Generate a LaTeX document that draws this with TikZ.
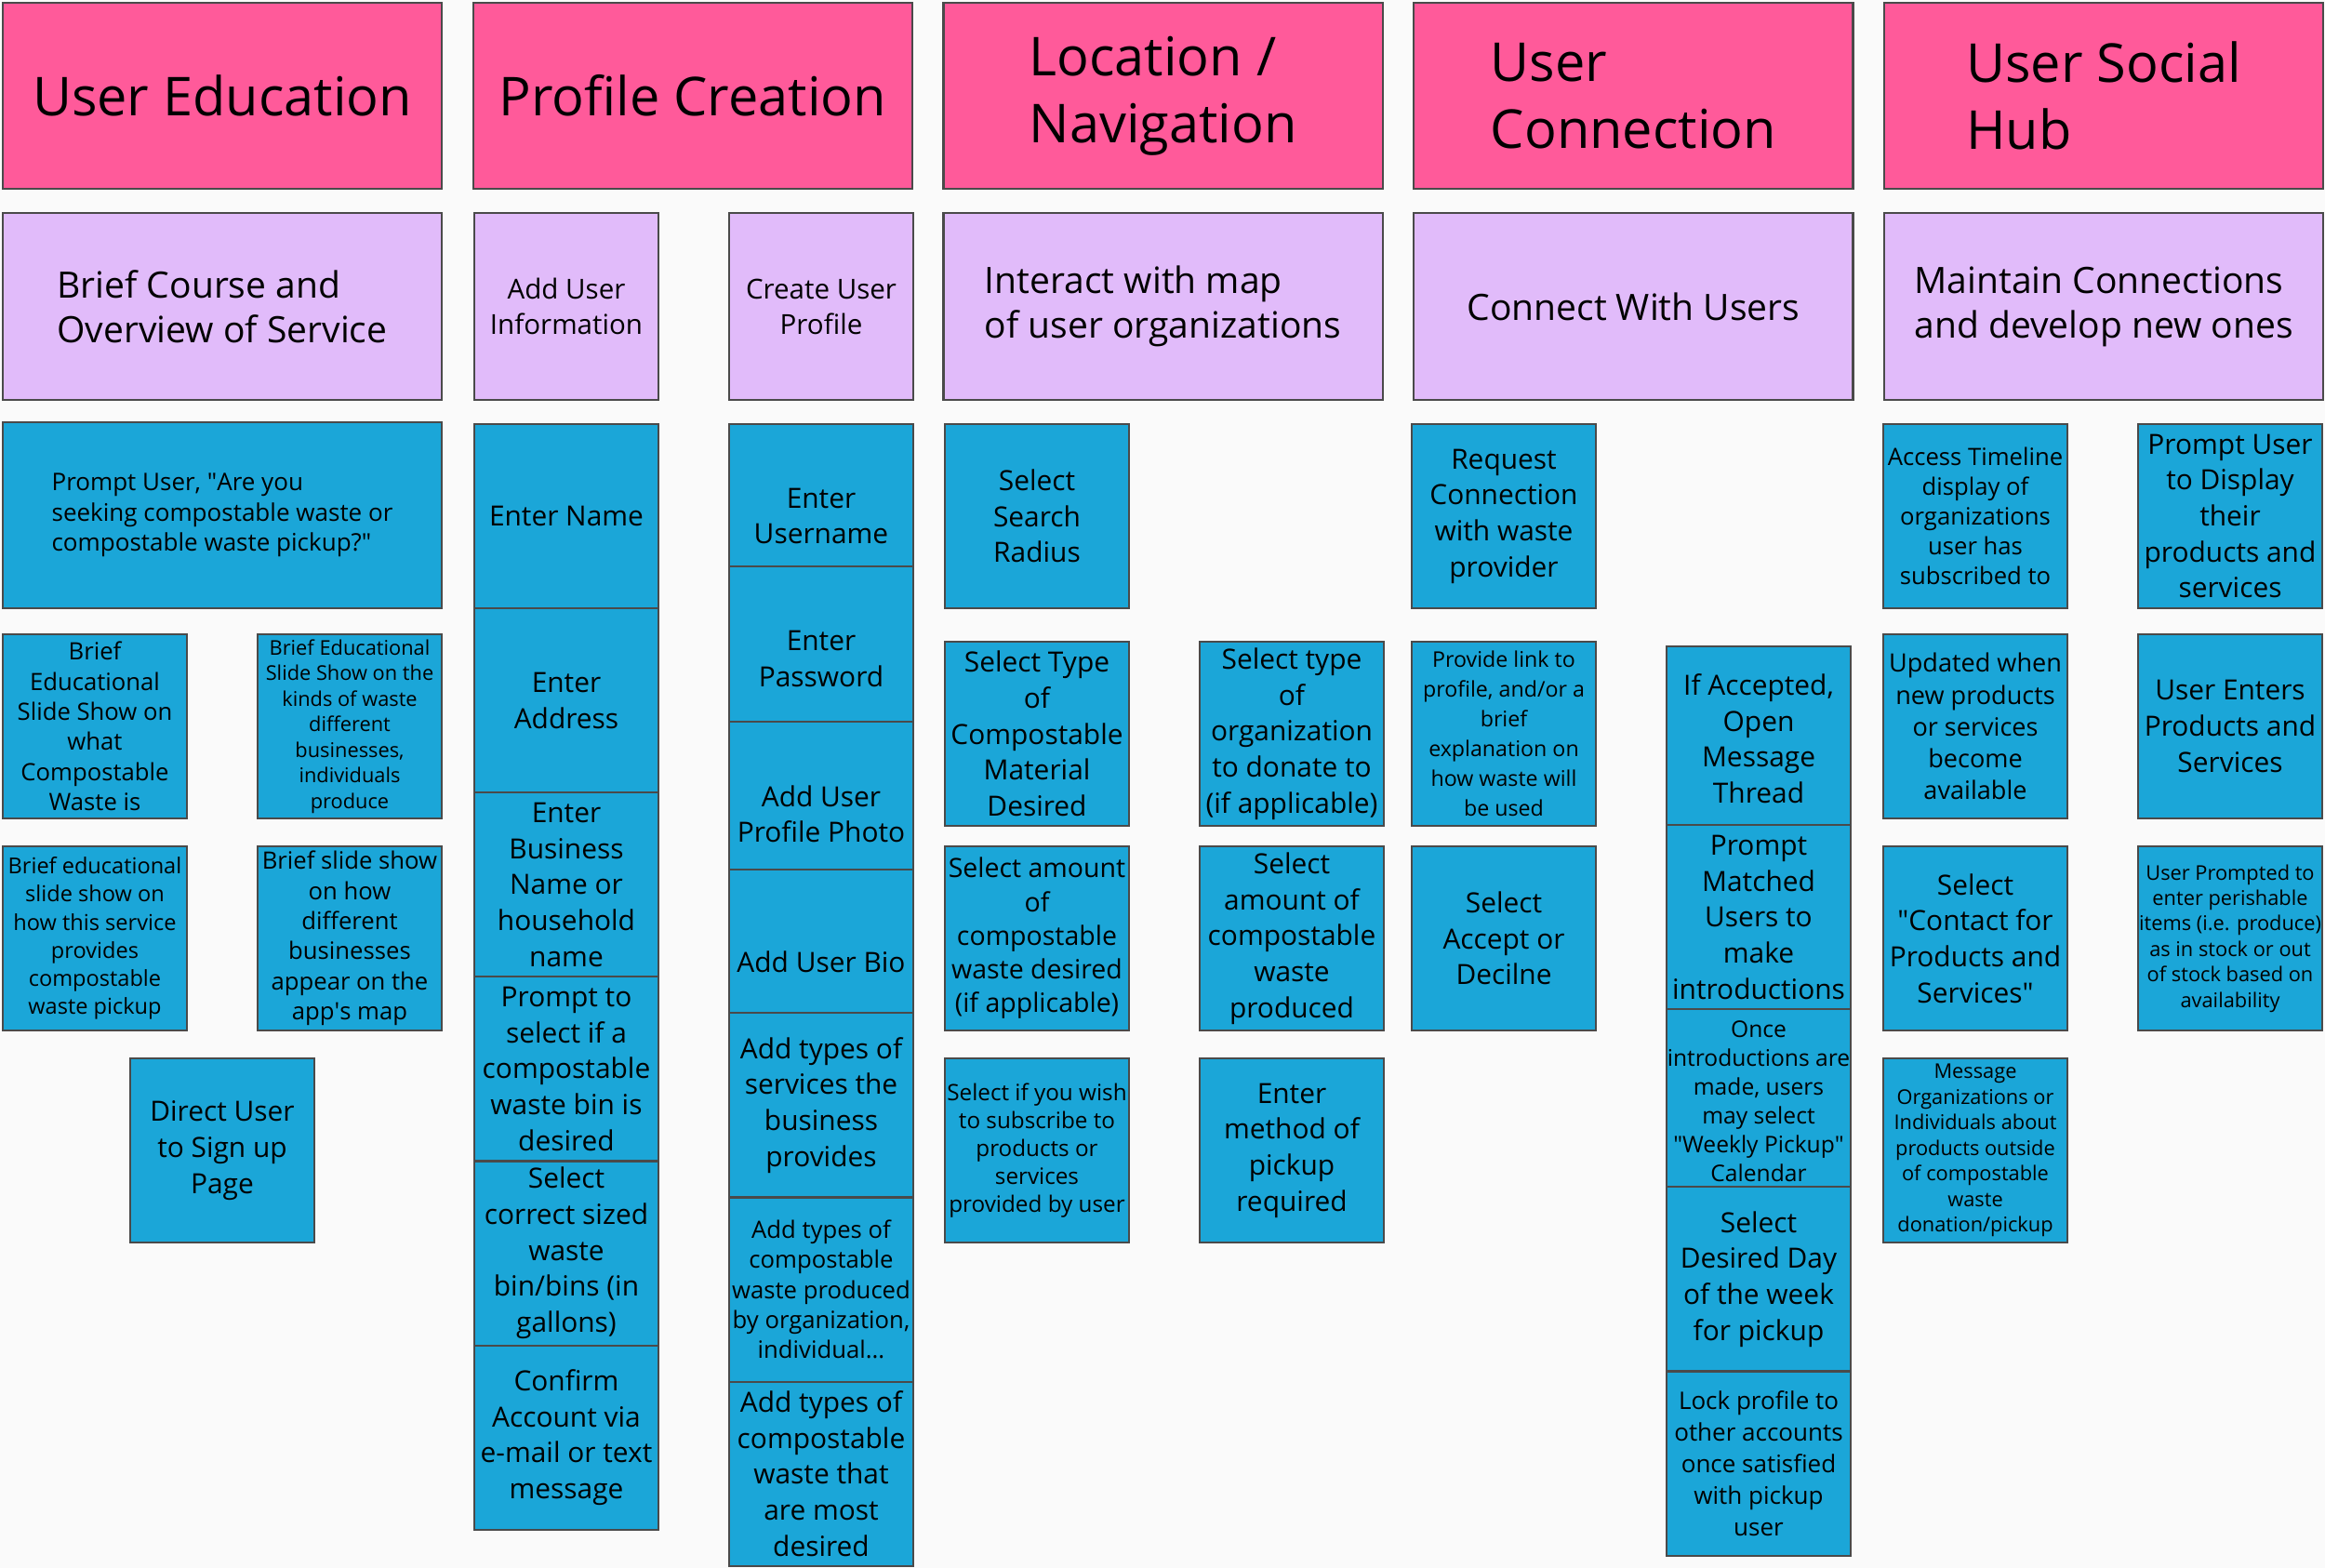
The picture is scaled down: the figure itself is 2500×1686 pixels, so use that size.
\documentclass[tikz,border=0pt]{standalone}
\usepackage{fontspec}
\setmainfont{Open Sans}
\newfontfamily\plainsans{Open Sans}
\usepackage{tikz}
\usetikzlibrary{positioning}
\definecolor{sm-bg}{HTML}{FAFAFA}
\definecolor{sm-head}{HTML}{FF5A9A}
\definecolor{sm-goal}{HTML}{E1BBFA}
\definecolor{sm-task}{HTML}{1BA6D8}
\definecolor{sm-edge}{HTML}{4A4A4A}
\newcommand{\dq}{{\plainsans"}}
\newcommand{\sq}{{\plainsans'}}

\begin{document}
\begin{tikzpicture}[
    x=0.01cm, y=-0.01cm,
    node distance=0pt and 0.335cm,
    text=black
  ]

  \tikzset{
    card/.style={draw=sm-edge, line width=0.6pt, inner sep=0pt, outer sep=0pt, align=center},
    head/.style={card, fill=sm-head, minimum width=4.72cm, minimum height=2cm, align=left, font=\fontsize{16.4}{20.5}\selectfont},
    goal/.style={card, fill=sm-goal, minimum width=4.72cm, minimum height=2.01cm, font=\fontsize{11.1}{13.7}\selectfont},
    task/.style={card, fill=sm-task, minimum width=1.98cm, minimum height=1.98cm, font=\fontsize{8.5}{11}\selectfont},
    fmid/.style={font=\fontsize{7.3}{9.2}\selectfont},
    fsm/.style={font=\fontsize{6.2}{7.8}\selectfont}
  }

  \path[use as bounding box, fill=sm-bg] (0,0) rectangle (2500,1686);

  % Column headers, left to right
  \node (hEdu)  [head] at (239,103) {User Education};
  \node (hProf) [head, right=of hEdu] {Profile Creation};
  \node (hLoc)  [head, right=of hProf] {Location /\\Navigation};
  \node (hConn) [head, right=of hLoc] {User\\Connection};
  \node (hHub)  [head, right=of hConn] {User Social\\Hub};

  % Goals under each header
  \node (gCourse) [goal, align=left, below=0.26cm of hEdu] {Brief Course and\\Overview of Service};
  \node (gInfo)   [goal, minimum width=1.98cm, font=\fontsize{8.4}{10.8}\selectfont] at (609,329.5) {Add User\\Information};
  \node (gProf)   [goal, minimum width=1.98cm, font=\fontsize{8.4}{10.8}\selectfont] at (883,329.5) {Create User\\Profile};
  \node (gMap)    [goal, align=left, below=0.26cm of hLoc] {Interact with map\\of user organizations};
  \node (gConn)   [goal, below=0.26cm of hConn] {Connect With Users};
  \node (gHub)    [goal, align=left, below=0.26cm of hHub] {Maintain Connections\\and develop new ones};

  % User Education tasks
  \node (tAsk)  [task, minimum width=4.72cm, minimum height=2cm, align=left, font=\fontsize{7.4}{9.3}\selectfont] at (239,554) {Prompt User, \dq Are you\\seeking compostable waste or\\compostable waste pickup?\dq};
  \node (tWhat) [task, fmid] at (102,781) {Brief\\Educational\\Slide Show on\\what\\Compostable\\Waste is};
  \node (tKind) [task, fsm] at (376,781) {Brief Educational\\Slide Show on the\\kinds of waste\\different\\businesses,\\individuals\\produce};
  \node (tHow)  [task, font=\fontsize{6.7}{8.6}\selectfont] at (102,1009) {Brief educational\\slide show on\\how this service\\provides\\compostable\\waste pickup};
  \node (tApp)  [task, fmid] at (376,1009) {Brief slide show\\on how\\different\\businesses\\appear on the\\app\sq s map};
  \node (tSign) [task] at (239,1237) {Direct User\\to Sign up\\Page};

  % Profile Creation: user information
  \node (tName) [task, anchor=north] at (609,456) {Enter Name};
  \node (tAddr) [task, below=of tName] {Enter\\Address};
  \node (tBiz)  [task, below=of tAddr] {Enter\\Business\\Name or\\household\\name};
  \node (tBin)  [task, below=of tBiz] {Prompt to\\select if a\\compostable\\waste bin is\\desired};
  \node (tSize) [task, below=of tBin] {Select\\correct sized\\waste\\bin/bins (in\\gallons)};
  \node (tConf) [task, below=of tSize] {Confirm\\Account via\\e-mail or text\\message};

  % Profile Creation: user profile (cards overlap)
  \node (tUser)  [task, anchor=north] at (883,456) {Enter\\Username};
  \node (tPass)  [task, below=-0.45cm of tUser] {Enter\\Password};
  \node (tPhoto) [task, below=-0.31cm of tPass] {Add User\\Profile Photo};
  \node (tBio)   [task, below=-0.39cm of tPhoto] {Add User Bio};
  \node (tServ)  [task, below=-0.44cm of tBio] {Add types of\\services the\\business\\provides};
  \node (tProd)  [task, fmid, below=of tServ] {Add types of\\compostable\\waste produced\\by organization,\\individual...};
  \node (tMost)  [task, below=of tProd] {Add types of\\compostable\\waste that\\are most\\desired};

  % Location / Navigation
  \node (tRad)  [task] at (1115,555) {Select\\Search\\Radius};
  \node (tType) [task] at (1115,789) {Select Type\\of\\Compostable\\Material\\Desired};
  \node (tWant) [task, font=\fontsize{8.1}{10.3}\selectfont] at (1115,1009) {Select amount\\of\\compostable\\waste desired\\(if applicable)};
  \node (tSub)  [task, font=\fontsize{6.9}{8.5}\selectfont] at (1115,1237) {Select if you wish\\to subscribe to\\products or\\services\\provided by user};
  \node (tOrg)  [task] at (1389,789) {Select type\\of\\organization\\to donate to\\(if applicable)};
  \node (tMade) [task] at (1389,1009) {Select\\amount of\\compostable\\waste\\produced};
  \node (tMeth) [task] at (1389,1237) {Enter\\method of\\pickup\\required};

  % User Connection
  \node (tReq)  [task] at (1617,555) {Request\\Connection\\with waste\\provider};
  \node (tLink) [task, font=\fontsize{6.6}{9.1}\selectfont] at (1617,789) {Provide link to\\profile, and/or a\\brief\\explanation on\\how waste will\\be used};
  \node (tDec)  [task] at (1617,1009) {Select\\Accept or\\Decilne};
  \node (tOpen) [task, anchor=north] at (1891,695) {If Accepted,\\Open\\Message\\Thread};
  \node (tIntro) [task, below=-0.06cm of tOpen] {Prompt\\Matched\\Users to\\make\\introductions};
  \node (tWeek) [task, font=\fontsize{7.0}{8.8}\selectfont, below=of tIntro] {Once\\introductions are\\made, users\\may select\\\dq Weekly Pickup\dq\\Calendar};
  \node (tDay)  [task, below=-0.07cm of tWeek] {Select\\Desired Day\\of the week\\for pickup};
  \node (tLock) [task, font=\fontsize{7.4}{9.7}\selectfont, below=of tDay] {Lock profile to\\other accounts\\once satisfied\\with pickup\\user};

  % User Social Hub
  \node (tTime) [task, font=\fontsize{7.3}{9.1}\selectfont] at (2124,555) {Access Timeline\\display of\\organizations\\user has\\subscribed to};
  \node (tNew)  [task, font=\fontsize{7.7}{9.7}\selectfont] at (2124,781) {Updated when\\new products\\or services\\become\\available};
  \node (tCont) [task] at (2124,1009) {Select\\\dq Contact for\\Products and\\Services\dq};
  \node (tMsg)  [task, fsm] at (2124,1237) {Message\\Organizations or\\Individuals about\\products outside\\of compostable\\waste\\donation/pickup};
  \node (tDisp) [task] at (2398,555) {Prompt User\\to Display\\their\\products and\\services};
  \node (tEnt)  [task] at (2398,781) {User Enters\\Products and\\Services};
  \node (tPer)  [task, fsm] at (2398,1009) {User Prompted to\\enter perishable\\items (i.e. produce)\\as in stock or out\\of stock based on\\availability};

\end{tikzpicture}
\end{document}
